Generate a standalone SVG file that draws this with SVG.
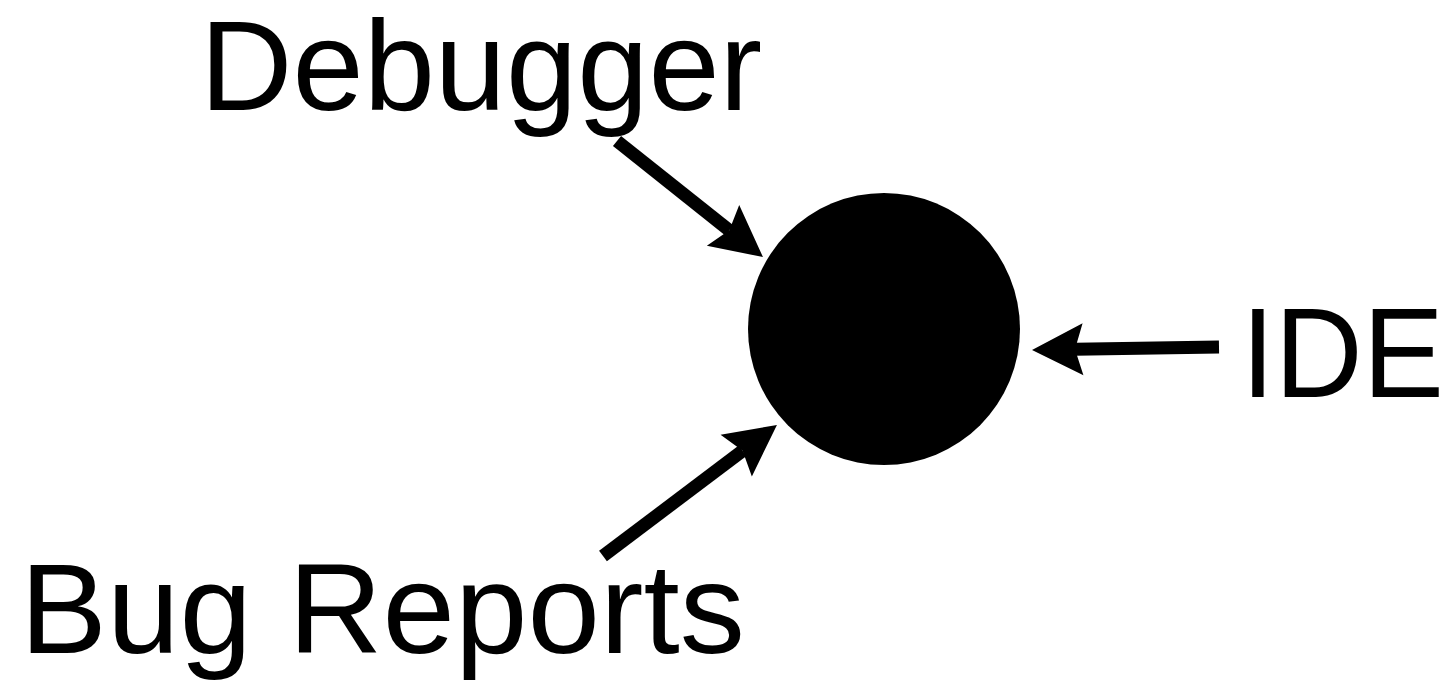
<svg xmlns="http://www.w3.org/2000/svg" width="1452" height="682" viewBox="0 0 1452 682">
<style>
.lbl{font-family:"Liberation Sans",Arial,Helvetica,sans-serif;font-size:128px;fill:#000}
.conn{stroke:#000;stroke-width:13;fill:none;marker-end:url(#ah)}
</style>
<defs>
<marker id="ah" markerUnits="userSpaceOnUse" markerWidth="60" markerHeight="60" refX="0" refY="0" orient="auto" overflow="visible">
<path d="M43,0 L-8,-26 L0,0 L-8,26 Z" fill="#000"/>
</marker>
</defs>
<rect width="1452" height="682" fill="#fff"/>
<g id="hub"><circle cx="884" cy="329" r="136" fill="#000"/></g>
<g id="debugger"><text class="lbl" x="200" y="110">Debugger</text></g>
<g id="ide"><text class="lbl" x="1241" y="397" textLength="203" lengthAdjust="spacingAndGlyphs">IDE</text></g>
<g id="bug-reports"><text class="lbl" x="20" y="653" textLength="725" lengthAdjust="spacingAndGlyphs">Bug Reports</text></g>
<g id="connectors">
<line class="conn" x1="617" y1="141" x2="729.3" y2="230.3"/>
<line class="conn" x1="1219" y1="347" x2="1075" y2="349.3"/>
<line class="conn" x1="603" y1="556" x2="742.6" y2="450.8"/>
</g>
</svg>
